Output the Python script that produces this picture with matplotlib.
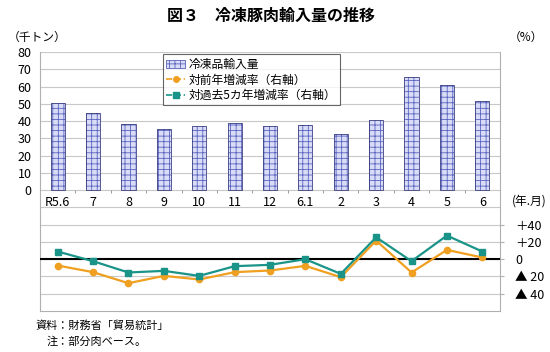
import matplotlib.pyplot as plt
from matplotlib.patches import Patch
from matplotlib.lines import Line2D
import matplotlib.transforms as mtransforms

plt.rcParams['font.family'] = ['Noto Sans CJK JP', 'DejaVu Sans']
plt.rcParams['hatch.linewidth'] = 0.6

months = ["R5.6", "7", "8", "9", "10", "11", "12", "6.1", "2", "3", "4", "5", "6"]
volume = [50.5, 44.8, 38.6, 35.4, 36.9, 39.2, 37.1, 37.7, 32.3, 40.8, 65.5, 60.9, 51.8]
yoy = [-7.3, -15.0, -27.8, -19.3, -23.5, -15.0, -13.1, -7.7, -20.8, 21.6, -15.4, 10.8, 2.0]
vs5yr = [8.9, -2.3, -15.4, -13.5, -19.3, -8.1, -6.5, 0.0, -17.0, 25.4, -2.3, 27.4, 8.9]

left_ticks = [0, 10, 20, 30, 40, 50, 60, 70, 80]
right_ticks = [40, 20, 0, -20, -40]
right_labels = ["＋40", "＋20", "0", "▲ 20", "▲ 40"]

bar_face = "#d9dcf6"
bar_hatch = "#5a64c0"
orange = "#f0a020"
teal = "#1a9488"
grid_col = "#c8c8c8"

fig = plt.figure(figsize=(5.5, 3.52), dpi=100)
ax = fig.add_axes([0.0727, 0.1165, 0.8364, 0.7355])
x = list(range(len(months)))

ax.set_xlim(-0.5, len(months) - 0.5)
ax.set_ylim(-70, 80)
for g in range(-60, 81, 10):
    ax.axhline(g, color=grid_col, lw=0.8, zorder=0)

ax.bar(x, volume, width=0.4, color=bar_face, edgecolor=bar_hatch, hatch="+++",
       lw=0, zorder=2)
ax.bar(x, volume, width=0.4, fill=False, edgecolor="#3a3f80", lw=0.6, zorder=3)

# small ticks between categories on the zero line
ax.vlines([i + 0.5 for i in x[:-1]], -1.8, 0, color="#999999", lw=0.7, zorder=1)

ax.set_yticks(left_ticks)
ax.set_yticklabels([str(t) for t in left_ticks], fontsize=9)
ax.tick_params(axis="y", length=0, pad=6)
ax.set_xticks([])
ax.spines["top"].set_visible(False)
for sp in ["left", "bottom", "right"]:
    ax.spines[sp].set_color("#b0b0b0")

trans = mtransforms.blended_transform_factory(ax.transData, ax.transData)
for i, m in enumerate(months):
    ax.text(i, -7, m, ha="center", va="center", fontsize=9, transform=trans)

ax2 = ax.twinx()
ax2.set_ylim(-60, 240)
ax2.axhline(0, color="black", lw=1.5, zorder=1)
ax2.plot(x, yoy, color=orange, marker="o", ms=4.5, lw=1.6, zorder=3)
ax2.plot(x, vs5yr, color=teal, marker="s", ms=5, lw=1.6, zorder=4)
ax2.set_yticks(right_ticks)
ax2.set_yticklabels(right_labels, fontsize=9)
ax2.tick_params(axis="y", length=3, color="#b0b0b0", pad=8)
for sp in ax2.spines.values():
    sp.set_visible(False)
ax.set_zorder(ax2.get_zorder() - 1)
ax2.patch.set_visible(False)

handles = [
    Patch(facecolor=bar_face, edgecolor=bar_hatch, hatch="+++", lw=0.6),
    Line2D([], [], color=orange, marker="o", ms=4, lw=1.2, ls="--"),
    Line2D([], [], color=teal, marker="s", ms=4, lw=1.2, ls="--"),
]
labels = ["冷凍品輸入量", "対前年増減率（右軸）", "対過去5カ年増減率（右軸）"]
leg = ax2.legend(handles, labels, loc="upper left", bbox_to_anchor=(0.262, 1.0),
                 fontsize=8.5, frameon=True, fancybox=False, borderpad=0.3,
                 handlelength=1.6, handletextpad=0.3, labelspacing=0.2,
                 borderaxespad=0.2)
leg.get_frame().set_edgecolor("#404040")
leg.get_frame().set_linewidth(0.8)

fig.text(0.493, 0.955, "図３　冷凍豚肉輸入量の推移", ha="center", va="center",
         fontsize=11.5, fontweight="bold")
fig.text(0.015, 0.895, "（千トン）", ha="left", va="center", fontsize=8.5)
fig.text(0.925, 0.895, "（%）", ha="left", va="center", fontsize=8.5)
fig.text(0.93, 0.43, "(年.月)", ha="left", va="center", fontsize=8.5)
fig.text(0.065, 0.074, "資料：財務省「貿易統計」", ha="left", va="center", fontsize=8)
fig.text(0.085, 0.031, "注：部分肉ベース。", ha="left", va="center", fontsize=8)

fig.savefig("out.png", dpi=100)
